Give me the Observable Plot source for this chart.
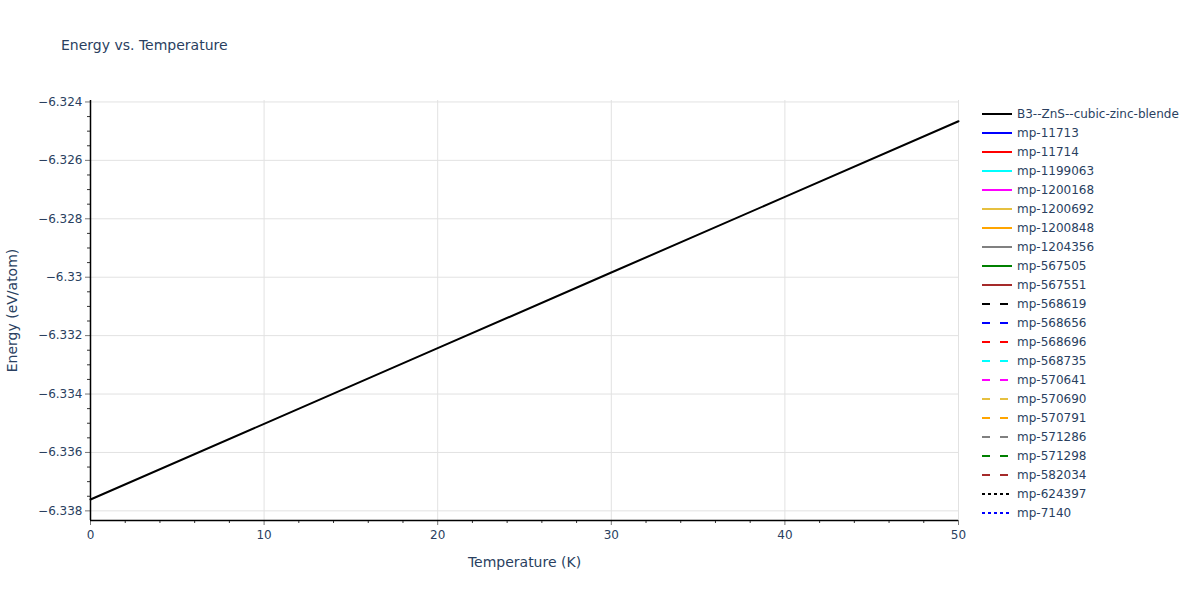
<!DOCTYPE html>
<html>
<head>
<meta charset="utf-8">
<script src="https://cdn.jsdelivr.net/npm/d3@7"></script>
<script src="https://cdn.jsdelivr.net/npm/@observablehq/plot@0.6"></script>
<style>
  html, body { margin: 0; padding: 0; background: #fff; }
  #wrap { position: relative; width: 1200px; height: 600px; overflow: hidden; font-family: "DejaVu Sans", verdana, arial, sans-serif; }
  #title { position: absolute; left: 61px; top: 36px; font-size: 14px; line-height: 18px; color: #2a3f5f; white-space: nowrap; }
  #legend { position: absolute; left: 970px; top: 100px; }
</style>
</head>
<body>
<div id="wrap">
  <div id="chart"></div>
  <div id="title"></div>
  <svg id="legend" width="230" height="440"></svg>
</div>
<script>
// ---- data ----
const titleText = "Energy vs. Temperature";
const xLabel = "Temperature (K)";
const yLabel = "Energy (eV/atom)";

const temperature = [0, 10, 20, 30, 40, 50];
const energyB3 = [-6.33761, -6.33502, -6.33243, -6.32984, -6.32725, -6.32466];

const seriesNames = ["B3--ZnS--cubic-zinc-blende", "mp-11713", "mp-11714", "mp-1199063", "mp-1200168",
  "mp-1200692", "mp-1200848", "mp-1204356", "mp-567505", "mp-567551", "mp-568619", "mp-568656",
  "mp-568696", "mp-568735", "mp-570641", "mp-570690", "mp-570791", "mp-571286", "mp-571298",
  "mp-582034", "mp-624397", "mp-7140"];
const seriesColors = ["#000000", "#0000ff", "#ff0000", "#00ffff", "#ff00ff", "#e6c040", "#ffa500", "#808080",
  "#008000", "#a52a2a", "#000000", "#0000ff", "#ff0000", "#00ffff", "#ff00ff", "#e6c040", "#ffa500",
  "#808080", "#008000", "#a52a2a", "#000000", "#0000ff"];
const seriesDash = ["solid", "solid", "solid", "solid", "solid", "solid", "solid", "solid", "solid", "solid",
  "dash", "dash", "dash", "dash", "dash", "dash", "dash", "dash", "dash", "dash", "dot", "dot"];

const xTicks = [0, 10, 20, 30, 40, 50];
const xMinorTicks = [2, 4, 6, 8, 12, 14, 16, 18, 22, 24, 26, 28, 32, 34, 36, 38, 42, 44, 46, 48];
const yTicks = [-6.338, -6.336, -6.334, -6.332, -6.33, -6.328, -6.326, -6.324];
const yMinorTicks = [-6.3375, -6.337, -6.3365, -6.3355, -6.335, -6.3345, -6.3335, -6.333, -6.3325,
  -6.3315, -6.331, -6.3305, -6.3295, -6.329, -6.3285, -6.3275, -6.327, -6.3265, -6.3255, -6.325, -6.3245];
const xDomain = [0, 50];
const yDomain = [-6.33833, -6.32395];

// ---- chart ----
const rows = temperature.map((t, i) => ({t, e: energyB3[i]}));
const fmtY = d => d.toFixed(3).replace(/0+$/, "").replace(/\.$/, "").replace("-", "\u2212");
const txt = "#2a3f5f";
const font = '"DejaVu Sans", verdana, arial, sans-serif';

const chart = Plot.plot({
  width: 1200, height: 600,
  marginLeft: 90, marginRight: 242, marginTop: 100, marginBottom: 80,
  x: {domain: xDomain},
  y: {domain: yDomain},
  style: {fontFamily: font, fontSize: "12px", color: txt, background: "#fff"},
  marks: [
    Plot.gridX(xTicks.slice(1), {stroke: "#e2e2e2", strokeOpacity: 1}),
    Plot.gridY(yTicks, {stroke: "#e2e2e2", strokeOpacity: 1}),
    Plot.axisX({ticks: xMinorTicks, tickSize: 3, tickFormat: () => "", label: null, stroke: "#333"}),
    Plot.axisY({ticks: yMinorTicks, tickSize: 3, tickFormat: () => "", label: null, stroke: "#333"}),
    Plot.axisX({ticks: xTicks, tickSize: 5, tickPadding: 5, label: null, stroke: "#777", fill: txt, fontSize: 12}),
    Plot.axisY({ticks: yTicks, tickSize: 5, tickPadding: 3, tickFormat: fmtY, label: null, stroke: "#777", fill: txt, fontSize: 12}),
    Plot.ruleY([yDomain[0]], {stroke: "#000", strokeWidth: 1.5}),
    Plot.ruleX([xDomain[0]], {stroke: "#000", strokeWidth: 1.5}),
    Plot.line(rows, {x: "t", y: "e", stroke: seriesColors[0], strokeWidth: 2}),
    Plot.text([yLabel], {frameAnchor: "left", textAnchor: "middle", dx: -78, rotate: -90, fontSize: 14, fill: txt}),
    Plot.text([xLabel], {frameAnchor: "bottom", textAnchor: "middle", dy: 46, fontSize: 14, fill: txt})
  ]
});
document.getElementById("chart").appendChild(chart);
document.getElementById("title").textContent = titleText;

// ---- legend ----
const dashMap = {solid: null, dash: "8,10", dot: "3,3"};
const leg = d3.select("#legend");
const g = leg.selectAll("g").data(seriesNames).join("g")
  .attr("transform", (d, i) => `translate(0,${14 + i * 19})`);
g.append("line").attr("x1", 12).attr("x2", 42).attr("y1", 0).attr("y2", 0)
  .attr("stroke", (d, i) => seriesColors[i]).attr("stroke-width", 2)
  .attr("stroke-dasharray", (d, i) => dashMap[seriesDash[i]]);
g.append("text").attr("x", 47).attr("y", 0).attr("dy", "0.35em")
  .attr("font-size", 12).attr("fill", txt)
  .attr("font-family", font)
  .text(d => d);
</script>
</body>
</html>
